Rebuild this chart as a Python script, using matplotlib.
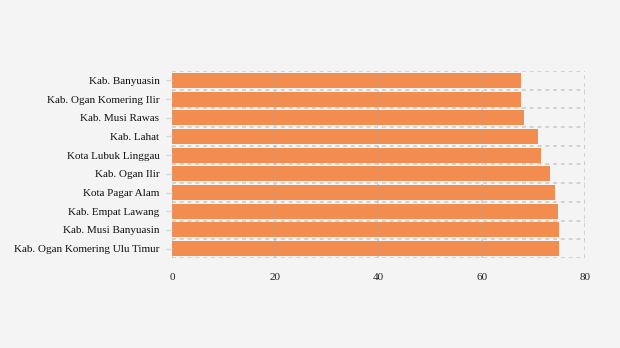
import matplotlib.pyplot as plt
import numpy as np

regions = [
    "Kab. Banyuasin",
    "Kab. Ogan Komering Ilir",
    "Kab. Musi Rawas",
    "Kab. Lahat",
    "Kota Lubuk Linggau",
    "Kab. Ogan Ilir",
    "Kota Pagar Alam",
    "Kab. Empat Lawang",
    "Kab. Musi Banyuasin",
    "Kab. Ogan Komering Ulu Timur",
]
values = [67.6, 67.6, 68.2, 70.9, 71.5, 73.2, 74.2, 74.8, 75.0, 75.0]
xticks = [0, 20, 40, 60, 80]

plt.rcParams["font.family"] = ["Liberation Serif", "DejaVu Serif"]

fig = plt.figure(figsize=(6.2, 3.48), dpi=100, facecolor="#f4f4f4")
ax = fig.add_axes([0.2774, 0.2586, 0.6661, 0.5374])
ax.set_facecolor("#f4f4f4")

y = np.arange(len(regions))
ax.barh(y, values, height=0.8, color="#f38c4f", zorder=2)

ax.set_xlim(0, 80)
ax.set_ylim(len(regions) - 0.5, -0.5)
ax.set_xticks(xticks)
ax.set_xticklabels([str(t) for t in xticks], fontsize=8, color="#222222")
ax.set_yticks(y)
ax.set_yticklabels(regions, fontsize=8, color="#111111")
ax.set_yticks(np.arange(-0.5, len(regions)), minor=True)

ax.tick_params(axis="x", length=0, pad=11)
ax.tick_params(axis="y", which="major", length=4, width=1, color="#d6d6d6", pad=5)
ax.tick_params(axis="y", which="minor", length=0)

# dashed grid: vertical at value ticks, horizontal between bands
ax.grid(axis="x", which="major", color="#aaaaaa", alpha=0.45, linestyle=(0, (2, 2)), linewidth=1.4, zorder=3)
ax.grid(axis="y", which="minor", color="#aaaaaa", alpha=0.45, linestyle=(0, (2, 2)), linewidth=1.4, zorder=3)
ax.grid(axis="y", which="major", visible=False)
ax.set_axisbelow(False)

for s in ax.spines.values():
    s.set_visible(False)

fig.savefig("out.png", dpi=100, facecolor=fig.get_facecolor())
